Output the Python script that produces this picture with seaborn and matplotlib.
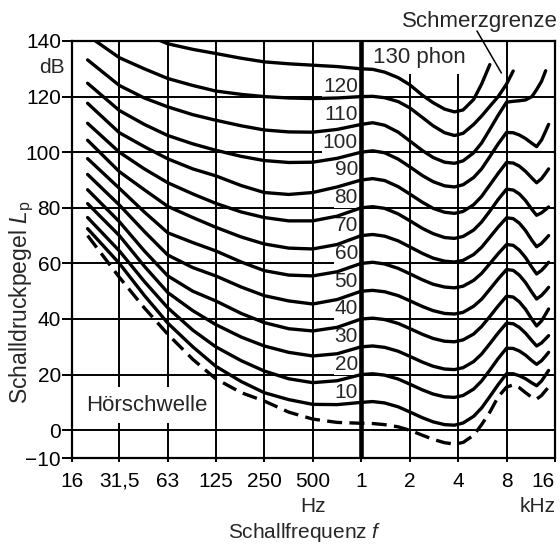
import numpy as np
import pandas as pd
import matplotlib
matplotlib.use("Agg")
import matplotlib.pyplot as plt
from matplotlib.ticker import NullLocator, FixedLocator
import seaborn as sns

sns.set_theme(style="white")
plt.rcParams["font.family"] = ["Liberation Sans", "DejaVu Sans"]
plt.rcParams["mathtext.fontset"] = "custom"
plt.rcParams["mathtext.rm"] = "Liberation Sans"
plt.rcParams["mathtext.it"] = "Liberation Sans:italic"

nan = np.nan

# ---- data ----
freq_hz = [20, 31.5, 45, 63, 90, 125, 180, 250, 355, 500, 710,
           1000, 1180, 1400, 1700, 2000, 2400, 2800, 3300, 3800,
           4300, 5000, 5600, 6300, 7100, 8000,
           8800, 9600, 10500, 11500, 12300, 13200, 14000, 14600]

hoerschwelle = [70, 55, 44, 34.5, 25.5, 18.5, 13.5, 10.5, 6.5, 4, 2.8,
                2.5, 2.4, 2.0, 1.2, 0, -1.8, -3.3, -4.5, -5,
                -4.4, -1.8, 2.0, 6.5, 12, 15.5,
                16.3, 15.3, 13.5, 11.8, 11.2, 12.5, 14.3, 15.5]
phon10 = [72.5, 60, 48.5, 38.5, 30, 23, 17.5, 13.5, 11, 9.3, 9.2,
          10, 10.3, 9.8, 8.4, 6.6, 4.5, 3.0, 2.0, 1.8,
          2.6, 5.0, 8.0, 12.1, 16.4, 20.3,
          20.3, 19.6, 18.5, 17.0, 16, 17.7, 19.9, 21.5]
phon20 = [76.5, 64.5, 53.5, 44, 36, 30, 25, 21.3, 18.5, 17.1, 17.8,
          20, 20.3, 19.8, 18.4, 16.6, 14.5, 13.0, 12.0, 11.8,
          12.5, 14.8, 17.7, 21.6, 25.8, 29.5,
          29.4, 28.5, 27.0, 25.0, 23.7, 25.0, 26.7, 28]
phon30 = [81.5, 70, 59, 49.5, 43, 38, 33.5, 30.3, 28, 26.7, 27.5,
          30, 30.3, 29.8, 28.4, 26.6, 24.5, 23.0, 22.0, 21.8,
          22.5, 24.7, 27.4, 31.1, 35.0, 38.5,
          38.3, 37.0, 34.9, 32.2, 30.3, 31.4, 32.9, 34]
phon40 = [86.5, 75, 64.5, 55.5, 50, 46.5, 42, 38.7, 36.5, 35.7, 37,
          40, 40.3, 39.8, 38.4, 36.6, 34.5, 33.0, 32.0, 31.8,
          32.5, 34.6, 37.3, 40.9, 44.7, 48.2,
          47.9, 46.2, 43.5, 39.9, 37.5, 39.3, 41.8, 43.6]
phon50 = [92, 81, 71.5, 63, 58.5, 55.5, 51.5, 48.4, 46.5, 45.4, 47,
          50, 50.3, 49.8, 48.4, 46.6, 44.5, 43.0, 42.0, 41.8,
          42.4, 44.6, 47.1, 50.7, 54.4, 57.8,
          57.5, 55.8, 53.1, 49.6, 47.2, 48.5, 50.1, 51.4]
phon60 = [97.7, 87, 78.5, 71, 67.5, 64.5, 60.5, 57.4, 55.8, 55.5, 57,
          60, 60.4, 59.8, 58.2, 56.3, 54.1, 52.5, 51.5, 51.2,
          51.8, 53.9, 56.4, 59.9, 63.5, 66.8,
          66.5, 64.8, 62.1, 58.6, 56.2, 57.5, 59.1, 60.4]
phon70 = [104.3, 93, 86.5, 80.5, 76.5, 73, 69.5, 67, 65.5, 65.2, 66.8,
          70, 70.4, 69.8, 68.1, 66.0, 63.6, 61.9, 60.8, 60.5,
          61.1, 63.2, 65.8, 69.4, 73.1, 76.4,
          76.1, 74.5, 71.8, 68.3, 66, 67.2, 68.8, 70]
phon80 = [110.4, 100, 94, 89, 85, 81.6, 78.5, 76.5, 75.3, 75.3, 77,
          80, 80.4, 79.8, 77.8, 75.4, 72.6, 70.7, 69.3, 69,
          69.7, 72.0, 74.9, 78.8, 83.0, 86.7,
          86.4, 85.0, 82.6, 79.4, 77.3, 78.2, 79.4, 80.3]
phon90 = [117.6, 107, 102, 97.6, 94, 91.5, 88, 85.5, 84.8, 85.5, 87.5,
          90, 90.5, 89.8, 87.6, 85.0, 82.0, 79.8, 78.4, 78,
          78.7, 81.1, 84.1, 88.2, 92.4, 96.3,
          96.1, 95.0, 93.1, 90.7, 89, 90.5, 92.5, 94]
phon100 = [124.8, 115, 110, 106, 103, 100.7, 98.5, 97, 96.3, 96.4, 97.8,
           100, 100.5, 99.8, 97.5, 94.8, 91.6, 89.4, 87.9, 87.5,
           88.3, 90.9, 94.0, 98.4, 103.0, 107.1,
           107.0, 106.2, 104.9, 103.2, 102, 104.4, 107.6, 110]
phon110 = [133.2, 124, 119.5, 116.3, 113.5, 111.5, 109.5, 108, 107.3, 107.2, 108.2,
           110, 110.6, 109.7, 107.2, 104.1, 100.6, 98.1, 96.4, 96,
           96.9, 99.8, 103.3, 108.2, 113.3, 118.0,
           118.3, 118.5, 118.8, 120, 122.5, 125.5, 129.3, nan]
phon120 = [142, 134, 130, 126.5, 124, 122, 120.8, 120, 119.5, 119.3, 119.5,
           120, 120.1, 119.6, 118.2, 116, 112.5, 109.5, 107, 106,
           106.8, 110, 113, 116.5, 120, 124.5,
           129.2, nan, nan, nan, nan, nan, nan, nan]
phon130 = [nan, nan, 142.5, 139, 137, 135.5, 133.8, 132.5, 131.8, 131.3, 130.8,
           130, 129.8, 128.8, 126.8, 124.3, 120.5, 117.8, 115.5, 114.5,
           115.2, 119, 124.5, 131.5, nan, nan,
           nan, nan, nan, nan, nan, nan, nan, nan]

phon_levels = [10, 20, 30, 40, 50, 60, 70, 80, 90, 100, 110, 120]
solid_curves = [phon10, phon20, phon30, phon40, phon50, phon60, phon70,
                phon80, phon90, phon100, phon110, phon120, phon130]

xtick_values = [16, 31.5, 63, 125, 250, 500, 1000, 2000, 4000, 8000, 16000]
xtick_labels = ["16", "31,5", "63", "125", "250", "500", "1", "2", "4", "8", "16"]
ytick_values = [-10, 0, 20, 40, 60, 80, 100, 120, 140]
ytick_labels = ["\u221210", "0", "20", "40", "60", "80", "100", "120", "140"]

# ---- figure ----
W, H = 560, 549
fig = plt.figure(figsize=(W / 100, H / 100), dpi=100)
ax = fig.add_axes([72 / W, 1 - 458 / H, (555 - 72) / W, (458 - 41) / H])
ax.set_xscale("log")

FS = 15      # digits
FT = 16      # word labels
LW = 2.4

for vals in solid_curves:
    df = pd.DataFrame({"f": freq_hz, "L": vals}).dropna()
    sns.lineplot(data=df, x="f", y="L", ax=ax, color="black", linewidth=LW,
                 estimator=None, sort=False, legend=False, zorder=2)
df = pd.DataFrame({"f": freq_hz, "L": hoerschwelle})
sns.lineplot(data=df, x="f", y="L", ax=ax, color="black", linewidth=LW,
             estimator=None, sort=False, legend=False, zorder=2,
             linestyle=(0, (4.5, 2.2)))

ax.axvline(1000, color="black", lw=3.3, zorder=2.2)

ax.set_xlim(16, 16000)
ax.set_ylim(-10, 140)
ax.xaxis.set_major_locator(FixedLocator(xtick_values))
ax.xaxis.set_minor_locator(NullLocator())
ax.set_xticks(xtick_values)
ax.set_xticklabels(xtick_labels)
ax.set_yticks(ytick_values)
ax.set_yticklabels(ytick_labels)
ax.set_xlabel("")
ax.set_ylabel("")

ax.grid(True, which="major", color="black", lw=1.4)
ax.set_axisbelow(True)
for s in ax.spines.values():
    s.set_color("black")
    s.set_linewidth(1.6)

ax.tick_params(axis="y", left=True, direction="out", length=7, width=1.4,
               pad=1, labelsize=FS, colors="black")
ax.tick_params(axis="x", bottom=True, direction="out", length=3, width=1.4,
               pad=7, labelsize=FS, colors="black")
lbls = ax.get_xticklabels()
lbls[-1].set_horizontalalignment("right")

# curve labels left of the 1 kHz line
for p in phon_levels:
    ax.text(955, p + 3.6, str(p), ha="right", va="center", fontsize=FS,
            zorder=1.5,
            bbox=dict(boxstyle="square,pad=0.05", fc="white", ec="none"))

ax.text(1180, 134, "130 phon", ha="left", va="center", fontsize=FT, zorder=1.5,
        bbox=dict(boxstyle="square,pad=0.25", fc="white", ec="none"))
ax.text(46.6, 9, "Hörschwelle", ha="center", va="center", fontsize=FT,
        zorder=1.5,
        bbox=dict(boxstyle="square,pad=0.35", fc="white", ec="none"))

# Schmerzgrenze with pointer
fig.text(480 / W, 1 - 21 / H, "Schmerzgrenze", ha="center", va="center",
         fontsize=FT)
ax.annotate("", xy=(7430, 128.5), xycoords="data",
            xytext=(477 / W, 1 - 31 / H), textcoords="figure fraction",
            arrowprops=dict(arrowstyle="-", lw=1.1, color="black",
                            shrinkA=0, shrinkB=0),
            annotation_clip=False)

fig.text(65 / W, 1 - 67.5 / H, "dB", ha="right", va="center", fontsize=FS)
fig.text(313 / W, 1 - 507 / H, "Hz", ha="center", va="center", fontsize=FS)
fig.text(556 / W, 1 - 507 / H, "kHz", ha="right", va="center", fontsize=FS)
fig.text(305 / W, 1 - 533 / H, "Schallfrequenz $f$", ha="center", va="center",
         fontsize=FS)
fig.text(22 / W, 1 - 302 / H, "Schalldruckpegel $L_\\mathrm{p}$", ha="center",
         va="center", rotation=90, fontsize=16.5)

fig.savefig("out.png", dpi=100, facecolor="white")
